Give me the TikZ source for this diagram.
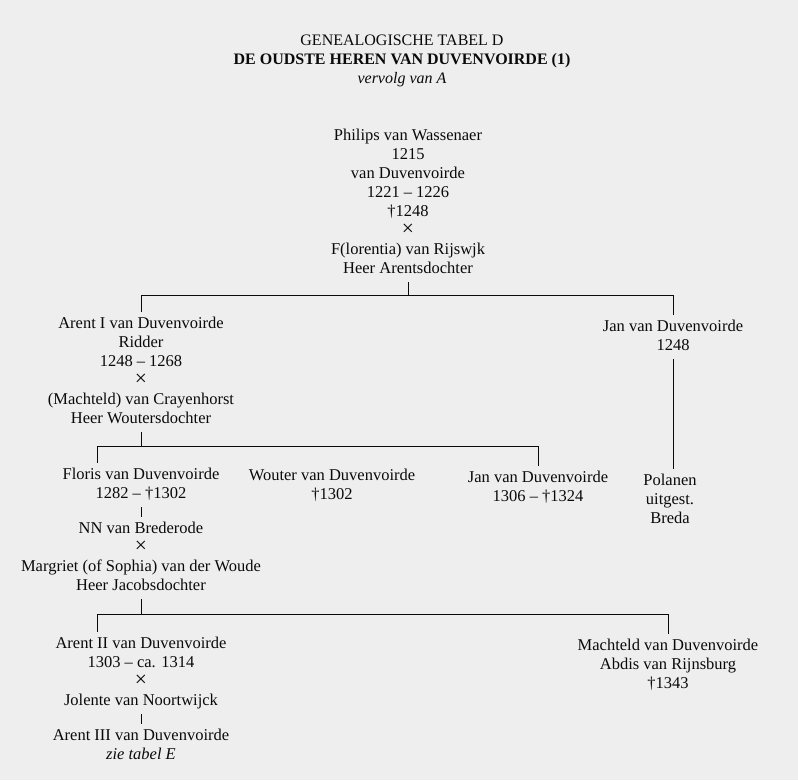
\documentclass[tikz,border=0pt]{standalone}
\usepackage{fontspec}
\setmainfont{Liberation Serif}
\usepackage{graphicx}
\definecolor{paper}{RGB}{238,238,238}
\definecolor{ink}{RGB}{10,10,10}
\newcommand{\mar}{\scalebox{1.3}{×}}
\begin{document}
\begin{tikzpicture}[x=1pt,y=-1pt,
  person/.style={align=center, inner xsep=0pt, inner ysep=3pt, outer sep=0pt,
    anchor=north, text=ink, font=\fontsize{16.5}{19}\selectfont},
  titlebox/.style={person, font=\fontsize{16}{19}\selectfont},
  link/.style={draw=ink, line width=1pt}]
\fill[paper] (0,0) rectangle (798,780);
\useasboundingbox (0,0) rectangle (798,780);

% title
\node[titlebox] (title) at (402,29) {\strut GENEALOGISCHE TABEL D\\
  \textbf{DE OUDSTE HEREN VAN DUVENVOIRDE (1)}\\ \textit{vervolg van A}\strut};

% persons
\node[person] (philips) at (408,124) {\strut Philips van Wassenaer\\ 1215\\ van Duvenvoirde\\
  1221 – 1226\\ †1248\\ \mar\\ F(lorentia) van Rijswjk\\ Heer Arentsdochter\strut};
\node[person] (arentI) at (141,312) {\strut Arent I van Duvenvoirde\\ Ridder\\ 1248 – 1268\\ \mar\\
  (Machteld) van Crayenhorst\\ Heer Woutersdochter\strut};
\node[person] (jan1) at (673,315) {\strut Jan van Duvenvoirde\\ 1248\strut};
\node[person] (polanen) at (670,469) {\strut Polanen\\ uitgest.\\ Breda\strut};
\node[person] (floris) at (141,463) {\strut Floris van Duvenvoirde\\ 1282 – †1302\strut};
\node[person] (wouter) at (332,464) {\strut Wouter van Duvenvoirde\\ †1302\strut};
\node[person] (jan2) at (538,466) {\strut Jan van Duvenvoirde\\ 1306 – †1324\strut};
\node[person] (nn) at (141,517) {\strut NN van Brederode\\ \mar\\ Margriet (of Sophia) van der Woude\\
  Heer Jacobsdochter\strut};
\node[person] (arentII) at (141,632) {\strut Arent II van Duvenvoirde\\ 1303 – ca. 1314\\ \mar\\
  Jolente van Noortwijck\strut};
\node[person] (arentIII) at (141,724) {\strut Arent III van Duvenvoirde\\ \textit{zie tabel E}\strut};
\node[person] (machteld) at (668,634) {\strut Machteld van Duvenvoirde\\ Abdis van Rijnsburg\\ †1343\strut};

% bars
\coordinate (b1) at (408,295);
\coordinate (b2) at (97,446);
\coordinate (b3) at (97,614);

% family of Philips
\draw[link] (philips.south) -- (philips.south |- b1);
\draw[link] (arentI.north |- b1) -- (jan1.north |- b1);
\draw[link] (arentI.north |- b1) -- (arentI.north);
\draw[link] (jan1.north |- b1) -- (jan1.north);
\draw[link] (jan1.south) -- (jan1.south |- polanen.north);

% family of Arent I
\draw[link] (arentI.south) -- (arentI.south |- b2);
\draw[link] (b2) -- (jan2.north |- b2);
\draw[link] (b2) -- (b2 |- floris.north);
\draw[link] (jan2.north |- b2) -- (jan2.north);
\draw[link] (floris.south) -- (nn.north);

% family of NN van Brederode
\draw[link] (nn.south) -- (nn.south |- b3);
\draw[link] (b3) -- (machteld.north |- b3);
\draw[link] (b3) -- (b3 |- arentII.north);
\draw[link] (machteld.north |- b3) -- (machteld.north);
\draw[link] (arentII.south) -- (arentIII.north);
\end{tikzpicture}
\end{document}
